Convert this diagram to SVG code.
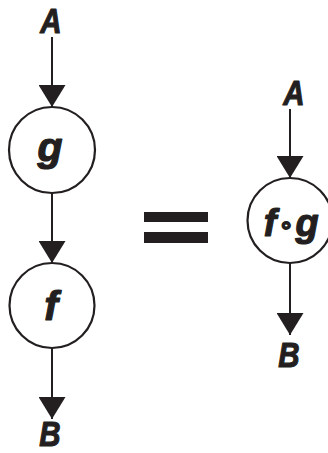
<svg xmlns="http://www.w3.org/2000/svg" width="328" height="453" viewBox="0 0 328 453">
<style>
.node circle{fill:#fff;stroke:#231f20;stroke-width:2.2}
.lbl{font-family:"Liberation Sans",Arial,sans-serif;font-weight:bold;font-style:italic;fill:#231f20;stroke:#231f20;stroke-width:1.2;stroke-linejoin:round;text-anchor:middle}
.conn line{stroke:#231f20;stroke-width:2}
</style>
<defs>
<marker id="ah" markerUnits="userSpaceOnUse" markerWidth="22" markerHeight="27" viewBox="0 0 22 27" refX="22" refY="13.5" orient="auto">
<path d="M0,0 L22,13.5 L0,27 Z" fill="#231f20"/>
</marker>
</defs>
<g id="connectors" class="conn">
<line x1="52" y1="37" x2="52" y2="107" marker-end="url(#ah)"/>
<line x1="52" y1="193" x2="52" y2="263" marker-end="url(#ah)"/>
<line x1="52" y1="348" x2="52" y2="419" marker-end="url(#ah)"/>
<line x1="290" y1="109" x2="290" y2="178" marker-end="url(#ah)"/>
<line x1="290" y1="263" x2="290" y2="335" marker-end="url(#ah)"/>
</g>
<g id="A1"><text class="lbl" font-size="36" transform="translate(51,33) scale(0.82,1)">A</text></g>
<g id="g" class="node"><circle cx="52" cy="150" r="43"/><text class="lbl" x="50" y="161" font-size="41">g</text></g>
<g id="f" class="node"><circle cx="52" cy="305.5" r="42.5"/><text class="lbl" x="51" y="320" font-size="41">f</text></g>
<g id="B1"><text class="lbl" font-size="36" transform="translate(50,446) scale(0.82,1)">B</text></g>
<g id="equals"><rect x="144" y="212" width="64" height="10" fill="#231f20"/><rect x="144" y="232" width="64" height="11" fill="#231f20"/></g>
<g id="A2"><text class="lbl" font-size="36" transform="translate(294,105) scale(0.82,1)">A</text></g>
<g id="fog" class="node"><circle cx="290" cy="220.5" r="42.5"/><text class="lbl" y="236" font-size="38"><tspan x="270">f</tspan><tspan x="286" y="233" font-size="24" stroke-width="1.5" font-family="DejaVu Sans,sans-serif" font-style="normal">∘</tspan><tspan x="307" y="236">g</tspan></text></g>
<g id="B2"><text class="lbl" font-size="36" transform="translate(289,367) scale(0.82,1)">B</text></g>
</svg>
